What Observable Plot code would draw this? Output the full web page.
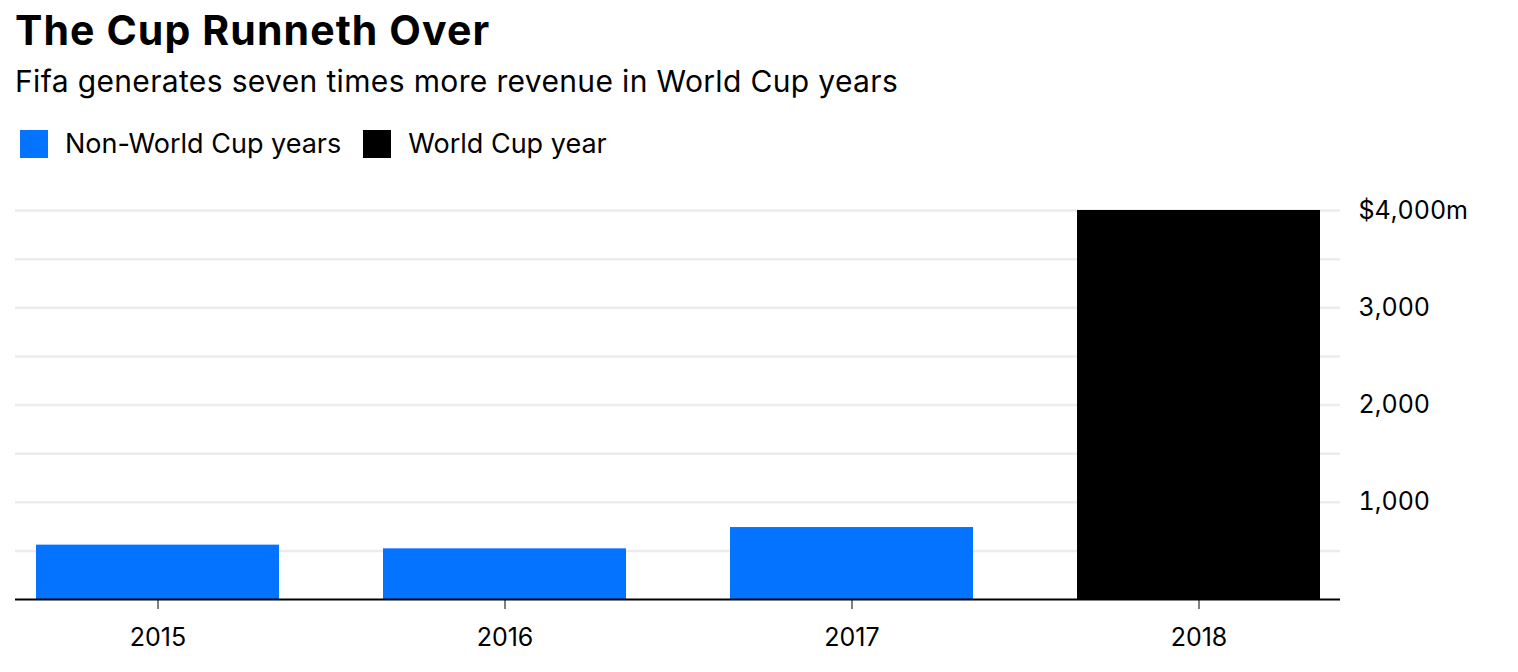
<!DOCTYPE html>
<html>
<head>
<meta charset="utf-8">
<script src="https://cdn.jsdelivr.net/npm/d3@7"></script>
<script src="https://cdn.jsdelivr.net/npm/@observablehq/plot@0.6"></script>
<style>
  body { margin: 0; background: #fff; font-family: Inter, Roboto, sans-serif; color: #000; }
  #wrap { position: relative; width: 1518px; height: 672px; overflow: hidden; }
  #title { position: absolute; left: 15px; top: 5px; font-size: 41px; line-height: 50px; font-weight: 700; letter-spacing: 1.1px; white-space: nowrap; }
  #subtitle { position: absolute; left: 15px; top: 62px; font-size: 30px; line-height: 38px; letter-spacing: 0.35px; white-space: nowrap; }
  #legend { position: absolute; left: 20px; top: 130px; display: flex; align-items: center; font-size: 27px; line-height: 28px; white-space: nowrap; }
  .sw { width: 28px; height: 28px; margin-right: 17px; }
  .item { display: flex; align-items: center; margin-right: 22px; }
  #chart { position: absolute; left: 0; top: 180px; }
</style>
</head>
<body>
<div id="wrap">
  <div id="title">The Cup Runneth Over</div>
  <div id="subtitle">Fifa generates seven times more revenue in World Cup years</div>
  <div id="legend"></div>
  <div id="chart"></div>
</div>
<script>
const years = ["2015", "2016", "2017", "2018"];
const revenue = [559, 521, 740, 4000];
const yearType = ["Non-World Cup years", "Non-World Cup years", "Non-World Cup years", "World Cup year"];
const legendLabels = ["Non-World Cup years", "World Cup year"];
const legendColors = ["#0473ff", "#000000"];
const gridValues = [500, 1000, 1500, 2000, 2500, 3000, 3500, 4000];
const yTickValues = [1000, 2000, 3000, 4000];

const data = years.map((y, i) => ({ year: y, value: revenue[i], type: yearType[i] }));

const legend = document.getElementById("legend");
legendLabels.forEach((l, i) => {
  const item = document.createElement("div");
  item.className = "item";
  const sw = document.createElement("div");
  sw.className = "sw";
  sw.style.background = legendColors[i];
  const t = document.createElement("span");
  t.textContent = l;
  item.appendChild(sw);
  item.appendChild(t);
  legend.appendChild(item);
});

const fmt = d3.format(",");
const chart = Plot.plot({
  width: 1518,
  height: 492,
  marginLeft: 15,
  marginRight: 178,
  marginTop: 30,
  marginBottom: 73,
  style: { fontFamily: "Inter, Roboto, sans-serif", background: "transparent", color: "#000" },
  x: { domain: years, paddingInner: 0.3, paddingOuter: 0.055, label: null },
  y: { domain: [0, 4000], label: null },
  color: { domain: legendLabels, range: legendColors },
  marks: [
    Plot.ruleY(gridValues, { stroke: "#ececec", strokeWidth: 2.5 }),
    Plot.barY(data, { x: "year", y: "value", fill: "type" }),
    Plot.ruleY([0], { stroke: "#000", strokeWidth: 2 }),
    Plot.axisX({ tickSize: 10, tickPadding: 19, fontSize: 25, label: null, stroke: "#000" }),
    Plot.axisY(yTickValues, {
      anchor: "right", tickSize: 0, tickPadding: 18, fontSize: 25, label: null,
      style: { letterSpacing: "0.6px" },
      tickFormat: d => d === 4000 ? "$" + fmt(d) + "m" : fmt(d)
    })
  ]
});
document.getElementById("chart").appendChild(chart);
</script>
</body>
</html>
